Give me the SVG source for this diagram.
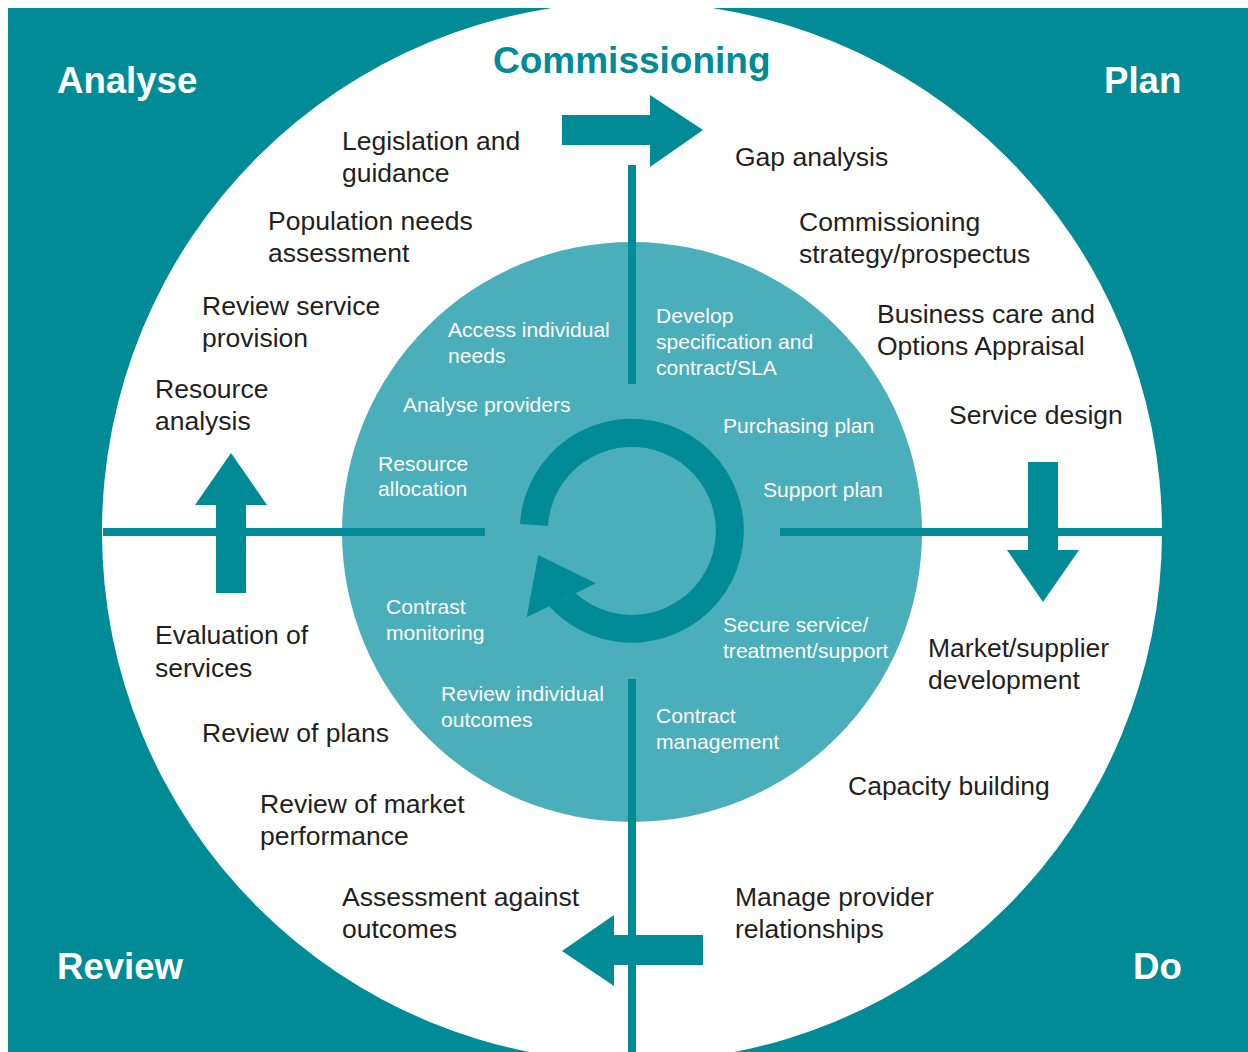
<svg xmlns="http://www.w3.org/2000/svg" width="1248" height="1052" viewBox="0 0 1248 1052">
  <style>
    .teal { fill: #008B96; }
    .inner { fill: #4BAEBB; }
    .outer-txt { font-family: "Liberation Sans", Arial, sans-serif; font-size: 26.5px; fill: #231F20; }
    .inner-txt { font-family: "Liberation Sans", Arial, sans-serif; font-size: 21.1px; fill: #FFFFFF; }
    .phase { font-family: "Liberation Sans", Arial, sans-serif; font-size: 36.6px; font-weight: bold; fill: #FFFFFF; }
    .title { font-family: "Liberation Sans", Arial, sans-serif; font-size: 37px; font-weight: bold; fill: #008B96; }
  </style>

  <!-- background and the two discs -->
  <g id="background">
    <rect x="8" y="8" width="1240" height="1044" class="teal"/>
    <circle cx="632" cy="532" r="530" fill="#FFFFFF"/>
    <circle cx="632" cy="532" r="290" class="inner"/>
  </g>

  <!-- quadrant dividers and direction arrows -->
  <g id="connectors" class="teal">
    <rect x="628" y="165" width="8" height="219"/>
    <rect x="628" y="679" width="8" height="373"/>
    <rect x="103" y="528" width="382" height="8"/>
    <rect x="780" y="528" width="382" height="8"/>
    <polygon points="562,115 650,115 650,95 703,130 650,167 650,145 562,145"/>
    <polygon points="1028,462 1058,462 1058,550 1079,550 1043,602 1007,550 1028,550"/>
    <polygon points="703,935 703,965 614,965 614,986 562,951 614,915 614,935"/>
    <polygon points="216,593 246,593 246,505 267,505 231,453 195,505 216,505"/>
  </g>

  <!-- central cycle arrow -->
  <g id="cycle" class="teal">
    <path d="M520,524 A112,112 0 1 1 549.1,606.3 L575.6,593.3 A84,84 0 1 0 548,526 Z"/>
    <polygon points="538.3,555 596,583.3 526.7,617.3"/>
  </g>

  <!-- headings -->
  <g id="title"><text class="title" x="493" y="73">Commissioning</text></g>
  <g id="analyse"><text class="phase" x="57" y="93">Analyse</text></g>
  <g id="plan"><text class="phase" x="1104" y="93">Plan</text></g>
  <g id="review"><text class="phase" x="57" y="979">Review</text></g>
  <g id="do"><text class="phase" x="1133" y="979">Do</text></g>

  <!-- outer ring labels -->
  <g id="legislation"><text class="outer-txt" x="342" y="150">Legislation and<tspan x="342" dy="32">guidance</tspan></text></g>
  <g id="population"><text class="outer-txt" x="268" y="230">Population needs<tspan x="268" dy="32">assessment</tspan></text></g>
  <g id="review-provision"><text class="outer-txt" x="202" y="315">Review service<tspan x="202" dy="32">provision</tspan></text></g>
  <g id="resource-analysis"><text class="outer-txt" x="155" y="398">Resource<tspan x="155" dy="32">analysis</tspan></text></g>
  <g id="gap"><text class="outer-txt" x="735" y="166">Gap analysis</text></g>
  <g id="strategy"><text class="outer-txt" x="799" y="231">Commissioning<tspan x="799" dy="32">strategy/prospectus</tspan></text></g>
  <g id="business"><text class="outer-txt" x="877" y="323">Business care and<tspan x="877" dy="32">Options Appraisal</tspan></text></g>
  <g id="service-design"><text class="outer-txt" x="949" y="424">Service design</text></g>
  <g id="evaluation"><text class="outer-txt" x="155" y="644">Evaluation of<tspan x="155" dy="33">services</tspan></text></g>
  <g id="review-plans"><text class="outer-txt" x="202" y="742">Review of plans</text></g>
  <g id="market-performance"><text class="outer-txt" x="260" y="813">Review of market<tspan x="260" dy="32">performance</tspan></text></g>
  <g id="assessment"><text class="outer-txt" x="342" y="906">Assessment against<tspan x="342" dy="32">outcomes</tspan></text></g>
  <g id="market-dev"><text class="outer-txt" x="928" y="657">Market/supplier<tspan x="928" dy="32">development</tspan></text></g>
  <g id="capacity"><text class="outer-txt" x="848" y="795">Capacity building</text></g>
  <g id="manage"><text class="outer-txt" x="735" y="906">Manage provider<tspan x="735" dy="32">relationships</tspan></text></g>

  <!-- inner disc labels -->
  <g id="access"><text class="inner-txt" x="448" y="337">Access individual<tspan x="448" dy="26">needs</tspan></text></g>
  <g id="analyse-providers"><text class="inner-txt" x="403" y="412">Analyse providers</text></g>
  <g id="resource-allocation"><text class="inner-txt" x="378" y="471">Resource<tspan x="378" dy="25">allocation</tspan></text></g>
  <g id="develop"><text class="inner-txt" x="656" y="323">Develop<tspan x="656" dy="26">specification and</tspan><tspan x="656" dy="26">contract/SLA</tspan></text></g>
  <g id="purchasing"><text class="inner-txt" x="723" y="433">Purchasing plan</text></g>
  <g id="support"><text class="inner-txt" x="763" y="497">Support plan</text></g>
  <g id="contrast"><text class="inner-txt" x="386" y="614">Contrast<tspan x="386" dy="26">monitoring</tspan></text></g>
  <g id="secure"><text class="inner-txt" x="723" y="632">Secure service/<tspan x="723" dy="26">treatment/support</tspan></text></g>
  <g id="review-individual"><text class="inner-txt" x="441" y="701">Review individual<tspan x="441" dy="26">outcomes</tspan></text></g>
  <g id="contract"><text class="inner-txt" x="656" y="723">Contract<tspan x="656" dy="26">management</tspan></text></g>
</svg>
